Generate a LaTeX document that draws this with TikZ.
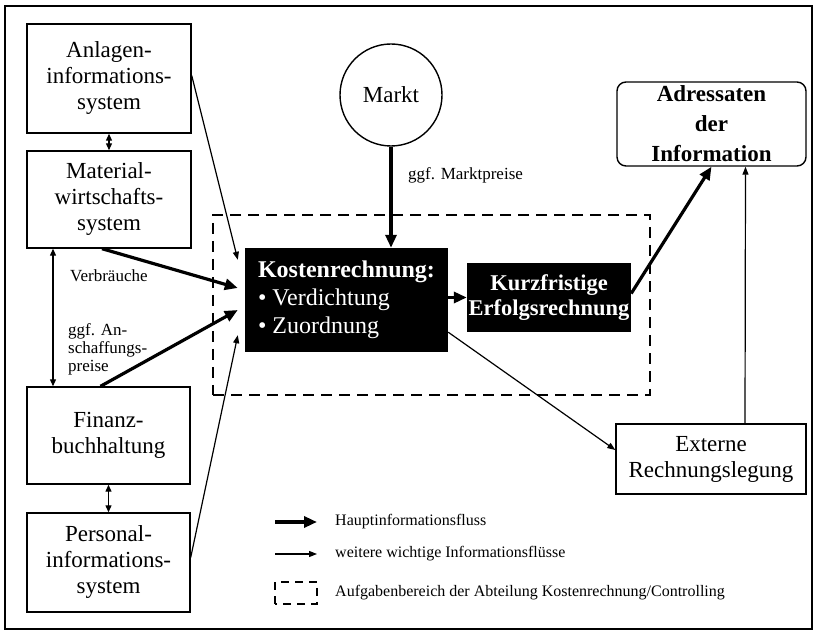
\documentclass[tikz,border=0pt]{standalone}
\usepackage{fontspec}
\setmainfont{Liberation Serif}
\usetikzlibrary{arrows.meta}
\newcommand\boxfont{\fontsize{23}{26}\selectfont}
\newcommand\lblfont{\fontsize{17}{18}\selectfont}
\newcommand\legfont{\fontsize{16}{18}\selectfont}
\begin{document}
\begin{tikzpicture}[
    x=1pt, y=1pt,
    box/.style={rectangle, draw, line width=1.4pt, align=center, font=\boxfont, inner sep=2pt},
    dark/.style={rectangle, fill=black, text=white, font=\boxfont, inner sep=1pt},
    markt/.style={circle, draw, line width=1.4pt, minimum size=102pt, font=\boxfont},
    bereich/.style={rectangle, draw, dash pattern=on 11pt off 7pt, line width=2.6pt},
    lbl/.style={font=\lblfont, align=left, anchor=west, inner sep=0pt},
    leg/.style={font=\legfont, anchor=west, inner sep=0pt},
    haupt/.style={line width=3.2pt, -{Triangle[length=13pt,width=11pt]}},
    neben/.style={line width=1.2pt, -{Triangle[length=8pt,width=6pt]}},
    beide/.style={line width=1.2pt, {Triangle[length=7pt,width=6pt]}-{Triangle[length=7pt,width=6pt]}}
]
    \useasboundingbox (0,0) rectangle (816,634);
    \draw[line width=2.2pt] (5,5) rectangle (812,628);

    % Nodes
    \node[box, minimum width=164pt, minimum height=109pt] (anlagen) at (109,555.5) {Anlagen-\\informations-\\system};
    \node[box, minimum width=164pt, minimum height=97pt] (material) at (109,434.5) {Material-\\wirtschafts-\\system};
    \node[box, minimum width=163pt, minimum height=97pt] (finanz) at (108.5,198.5) {Finanz-\\buchhaltung};
    \node[box, minimum width=163pt, minimum height=99pt] (personal) at (108.5,71.5) {Personal-\\informations-\\system};
    \node[markt] (markt) at (391,539) {Markt};
    \node[bereich, minimum width=437pt, minimum height=180pt] (aufgaben) at (431.5,329) {};
    \node[dark, minimum width=203pt, minimum height=104pt, align=left, font=\fontsize{24}{28}\selectfont] (kosten) at (346.5,334)
        {\textbf{Kostenrechnung:}\\\textbullet\ Verdichtung\\\textbullet\ Zuordnung};
    \node[dark, minimum width=164pt, minimum height=69pt, align=center, font=\fontsize{22.5}{25}\selectfont\bfseries] (kurz) at (549,336.5) {Kurzfristige\\Erfolgsrechnung};
    \node[box, rounded corners=9pt, minimum width=189pt, minimum height=84pt, font=\fontsize{23}{30}\selectfont\bfseries] (adressaten) at (711.5,510) {Adressaten\\der\\Information};
    \node[box, minimum width=190pt, minimum height=70pt] (externe) at (711,175) {Externe\\Rechnungslegung};

    % Labels
    \node[lbl] (preise) at (408,459) {ggf. Marktpreise};
    \node[lbl] (verbrauch) at (70,358) {Verbräuche};
    \node[lbl] (anschaffung) at (68,285) {ggf. An-\\schaffungs-\\preise};

    % Arrows
    \draw[beide] (anlagen) -- (material);
    \draw[beide] ([xshift=-56pt]material.south) -- ([xshift=-55.5pt]finanz.north);
    \draw[beide] (finanz) -- (personal);
    \draw[neben] ([yshift=3pt]anlagen.east) -- ([shift={(-7,-12)}]kosten.north west);
    \draw[haupt] ([xshift=-7pt]material.south) -- ([shift={(-7,12)}]kosten.west);
    \draw[haupt] ([xshift=-8pt]finanz.north) -- ([shift={(-7,-10)}]kosten.west);
    \draw[neben] ([yshift=5pt]personal.east) -- ([shift={(-7,17)}]kosten.south west);
    \draw[haupt] (markt.south) -- (markt.south |- kosten.north);
    \draw[haupt] (kosten.east |- kurz.west) -- (kurz.west);
    \draw[haupt] ([yshift=4pt]kurz.east) -- (adressaten.south);
    \draw[neben] ([yshift=20pt]kosten.south east) -- ([yshift=9pt]externe.west);
    \draw[neben] ([xshift=34pt]externe.north) -- ([xshift=34pt]adressaten.south);

    % Legend
    \node[leg] (l1) at (335,112) {Hauptinformationsfluss};
    \node[leg] (l2) at (335,80) {weitere wichtige Informationsflüsse};
    \node[leg] (l3) at (335,41) {Aufgabenbereich der Abteilung Kostenrechnung/Controlling};
    \draw[haupt] ([xshift=-60pt]l1.west) -- ([xshift=-18pt]l1.west);
    \draw[neben] ([xshift=-60pt]l2.west) -- ([xshift=-18pt]l2.west);
    \draw[bereich, dash pattern=on 8pt off 6pt, line width=2.4pt] ([shift={(-60,-11)}]l3.west) rectangle ([shift={(-18,11)}]l3.west);
\end{tikzpicture}
\end{document}
